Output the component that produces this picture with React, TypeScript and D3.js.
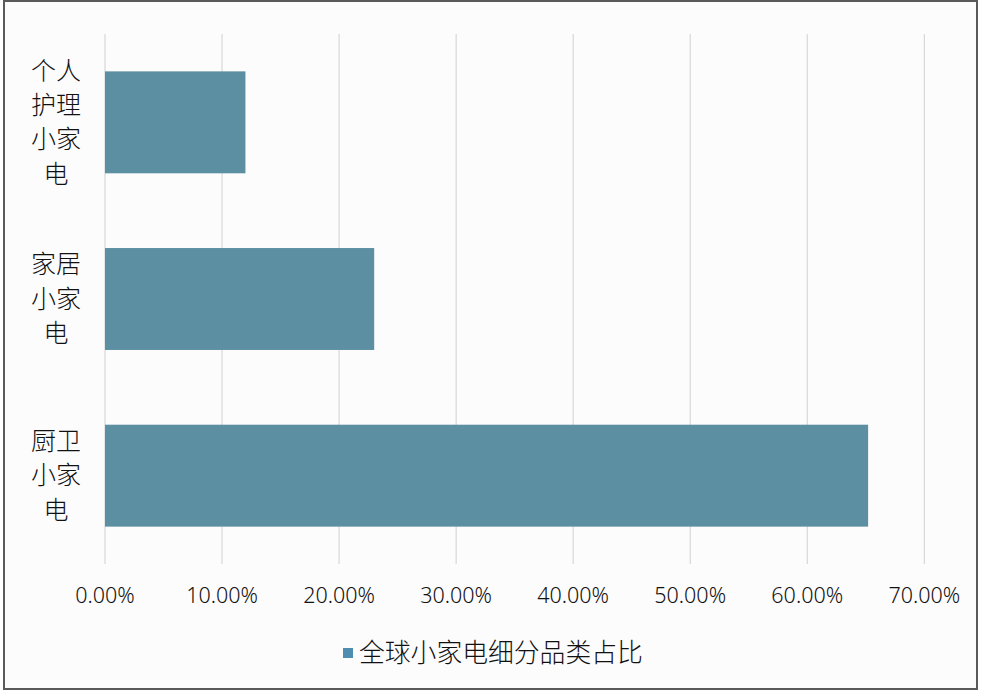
import React from "react";
import * as d3 from "d3";

const categories: string[][] = [
  ["个人", "护理", "小家", "电"],
  ["家居", "小家", "电"],
  ["厨卫", "小家", "电"],
];
const values: number[] = [0.12, 0.23, 0.652];
const tickValues: number[] = [0, 0.1, 0.2, 0.3, 0.4, 0.5, 0.6, 0.7];
const seriesName = "全球小家电细分品类占比";

const W = 982;
const H = 696;

export default function App() {
  const plotLeft = 105;
  const plotRight = 924.3;
  const plotTop = 34;
  const plotBottom = 564;

  const x = d3.scaleLinear().domain([0, 0.7]).range([plotLeft, plotRight]);
  const y = d3
    .scaleBand<number>()
    .domain(categories.map((_, i) => i))
    .range([plotTop, plotBottom])
    .paddingInner(0.423)
    .paddingOuter(0.2115);
  const fmt = d3.format(".2%");
  const cjk = "'Noto Sans CJK SC', 'Noto Sans', sans-serif";
  const lineH = 34.3;
  const barColor = "#5d8fa3";

  return (
    <svg
      width={W}
      height={H}
      style={{ position: "absolute", left: 0, top: 0, background: "#ffffff" }}
    >
      <rect x={4} y={1} width={973} height={688} fill="#fdfcfd" stroke="#5a5a5a" strokeWidth={2} />
      {tickValues.map((t) => (
        <line
          key={"g" + t}
          x1={x(t)}
          x2={x(t)}
          y1={plotTop}
          y2={plotBottom}
          stroke="#d0d0d0"
          strokeWidth={1}
        />
      ))}
      {values.map((v, i) => (
        <rect
          key={"b" + i}
          x={x(0)}
          y={y(i)!}
          width={x(v) - x(0)}
          height={y.bandwidth()}
          fill={barColor}
        />
      ))}
      {categories.map((lines, i) => {
        const cy = y(i)! + y.bandwidth() / 2;
        const start = cy - ((lines.length - 1) * lineH) / 2;
        return (
          <text
            key={"c" + i}
            fontFamily={cjk}
            fontSize={25}
            fontWeight={300}
            fill="#111"
            textAnchor="middle"
          >
            {lines.map((l, j) => (
              <tspan key={j} x={56} y={start + j * lineH} dy="0.35em">
                {l}
              </tspan>
            ))}
          </text>
        );
      })}
      {tickValues.map((t) => (
        <text
          key={"t" + t}
          x={x(t)}
          y={595}
          dy="0.35em"
          textAnchor="middle"
          fontFamily="'Noto Sans', sans-serif"
          fontSize={21.5}
          fontWeight={300}
          fill="#111"
        >
          {fmt(t)}
        </text>
      ))}
      <rect x={343} y={648} width={10} height={10} fill="#4f8db0" />
      <text
        x={359}
        y={653}
        dy="0.35em"
        fontFamily={cjk}
        fontSize={25.8}
        fontWeight={300}
        fill="#111"
      >
        {seriesName}
      </text>
    </svg>
  );
}
